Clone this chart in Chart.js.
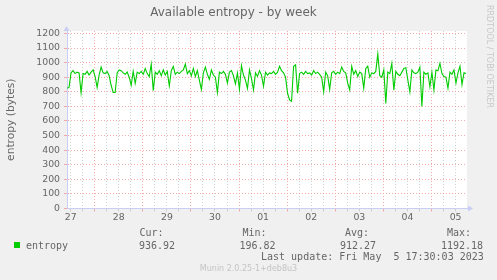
<!DOCTYPE html>
<html><head><meta charset="utf-8">
<script src="https://cdn.jsdelivr.net/npm/chart.js@4"></script>
<style>html,body{margin:0;padding:0;background:#F0F0F0;}canvas{display:block;}</style>
</head><body>
<canvas id="c" width="497" height="280"></canvas>
<script>
const titleText = 'Available entropy - by week';
const yAxisTitle = 'entropy (bytes)';
const seriesName = 'entropy';
const dayLabels = ['27','28','29','30','01','02','03','04','05'];
const yTickValues = [0,100,200,300,400,500,600,700,800,900,1000,1100,1200];
const gridHours = [12,18,24,30,36,42,48,54,60,66,72,78,84,90,96,102,108,114,120,126,132,138,144,150,156,162,168,174,180,186,192,198,204];
const sampleStartHour = 10.2;
const sampleStepHours = 1;
const entropy = [
825,830,930,945,925,935,930,795,925,920,
940,915,935,950,905,830,915,970,930,925,
940,910,845,795,795,930,950,945,930,920,
935,900,845,940,858,935,925,940,920,960,
925,905,990,808,935,920,945,910,950,915,
940,840,945,975,920,935,925,940,950,990,
925,945,910,960,905,945,880,817,930,970,
920,885,950,915,900,795,935,925,940,920,
860,935,945,910,855,930,817,980,915,880,
822,950,890,812,930,905,945,915,838,935,
915,930,925,940,920,935,975,945,930,900,
790,745,735,975,985,790,925,935,920,940,
925,930,915,945,925,935,920,900,800,935,
910,817,930,940,920,935,925,970,940,930,
860,812,975,920,945,905,935,925,825,960,
975,900,930,925,940,1060,910,900,950,720,
935,925,995,812,940,920,910,935,960,965,
880,800,950,930,925,935,970,700,935,920,
930,835,935,812,950,945,995,925,905,900,
825,935,920,950,860,930,975,850,930,925
];
const statNames = ['Cur:','Min:','Avg:','Max:'];
const statValues = ['936.92','196.82','912.27','1192.18'];
const lastUpdate = 'Last update: Fri May  5 17:30:03 2023';
const versionText = 'Munin 2.0.25-1+deb8u3';
const watermark = 'RRDTOOL / TOBI OETIKER';

const RED = 'rgba(240,150,150,0.8)';
const GRAY = 'rgba(200,200,200,0.85)';
const AXIS = '#C8CEF4';
const FONT_COLOR = '#666666';

const points = entropy.map((v, i) => ({x: sampleStartHour + i * sampleStepHours, y: v}));

const muninPlugin = {
  id: 'munin',
  beforeDraw(chart) {
    const {ctx, chartArea: a} = chart;
    ctx.save();
    ctx.fillStyle = '#FFFFFF';
    ctx.fillRect(a.left, a.top, a.right - a.left, a.bottom - a.top);
    ctx.restore();
  },
  afterDraw(chart) {
    const {ctx, chartArea: a} = chart;
    ctx.save();
    ctx.fillStyle = AXIS;
    ctx.beginPath();
    ctx.moveTo(a.left - 0.5, a.top - 5);
    ctx.lineTo(a.left - 3.5, a.top);
    ctx.lineTo(a.left + 2.5, a.top);
    ctx.closePath(); ctx.fill();
    ctx.beginPath();
    ctx.moveTo(a.right + 6, a.bottom);
    ctx.lineTo(a.right + 1, a.bottom - 3);
    ctx.lineTo(a.right + 1, a.bottom + 3);
    ctx.closePath(); ctx.fill();
    ctx.fillStyle = '#00CC00';
    ctx.fillRect(14, 242, 6, 6);
    ctx.fillStyle = FONT_COLOR;
    ctx.font = '10px "DejaVu Sans Mono"';
    ctx.textBaseline = 'middle';
    ctx.textAlign = 'left';
    ctx.fillText(seriesName, 26, 246);
    const labelX = [139.5, 242.5, 345, 447];
    const valueX = [139, 239.5, 340, 441];
    statNames.forEach((n, i) => ctx.fillText(n, labelX[i], 233.5));
    statValues.forEach((v, i) => ctx.fillText(v, valueX[i], 246));
    ctx.fillText(lastUpdate, 261, 257.5);
    ctx.fillStyle = '#C4C4C4';
    ctx.font = '8px "DejaVu Sans"';
    ctx.textAlign = 'center';
    ctx.fillText(versionText, 248.5, 268.5);
    ctx.translate(489.5, 56.5);
    ctx.rotate(Math.PI / 2);
    ctx.fillStyle = '#C8C8C8';
    ctx.fillText(watermark, 0, 0);
    ctx.restore();
  }
};

new Chart(document.getElementById('c'), {
  type: 'line',
  data: {
    datasets: [{
      label: seriesName,
      data: points,
      borderColor: '#00CC00',
      borderWidth: 1.1,
      pointRadius: 0,
      tension: 0,
      fill: false
    }]
  },
  options: {
    responsive: false,
    animation: false,
    devicePixelRatio: 1,
    layout: {padding: {left: 0, right: 30, top: 0, bottom: 0}},
    plugins: {
      legend: {display: false},
      tooltip: {enabled: false},
      title: {
        display: true,
        text: titleText,
        color: FONT_COLOR,
        font: {family: 'DejaVu Sans', size: 12, weight: 'normal', lineHeight: 1.2},
        padding: {top: 6, bottom: 10.6}
      }
    },
    scales: {
      x: {
        type: 'linear',
        min: 10.18,
        max: 209.7,
        afterBuildTicks: (s) => { s.ticks = gridHours.map(v => ({value: v})); },
        afterFit: (s) => { s.height = 71.5; },
        ticks: {
          autoSkip: false,
          maxRotation: 0,
          minRotation: 0,
          padding: 0,
          color: FONT_COLOR,
          font: {family: 'DejaVu Sans', size: 9.33},
          callback: (v) => (v % 24 === 12 ? dayLabels[(v - 12) / 24] : '')
        },
        grid: {
          color: (c) => (c.tick && c.tick.value % 24 === 0 ? RED : GRAY),
          tickColor: (c) => (c.tick && c.tick.value % 24 === 0 ? RED : GRAY),
          tickLength: 3,
          lineWidth: 1
        },
        border: {display: true, color: AXIS, width: 1, dash: [1, 2]}
      },
      y: {
        type: 'linear',
        min: 0,
        max: 1217,
        afterBuildTicks: (s) => { s.ticks = yTickValues.map(v => ({value: v})); },
        afterFit: (s) => { s.width = 67; },
        ticks: {
          padding: 4,
          color: FONT_COLOR,
          font: {family: 'DejaVu Sans', size: 9.33},
          callback: (v) => String(v)
        },
        grid: {
          color: RED,
          tickColor: RED,
          tickLength: 3,
          lineWidth: 1
        },
        border: {display: true, color: AXIS, width: 1, dash: [1, 2]},
        title: {
          display: true,
          text: yAxisTitle,
          color: FONT_COLOR,
          font: {family: 'DejaVu Sans', size: 10.67, lineHeight: 1.2},
          padding: {top: 4.5, bottom: 0}
        }
      }
    }
  },
  plugins: [muninPlugin]
});
</script>
</body></html>
